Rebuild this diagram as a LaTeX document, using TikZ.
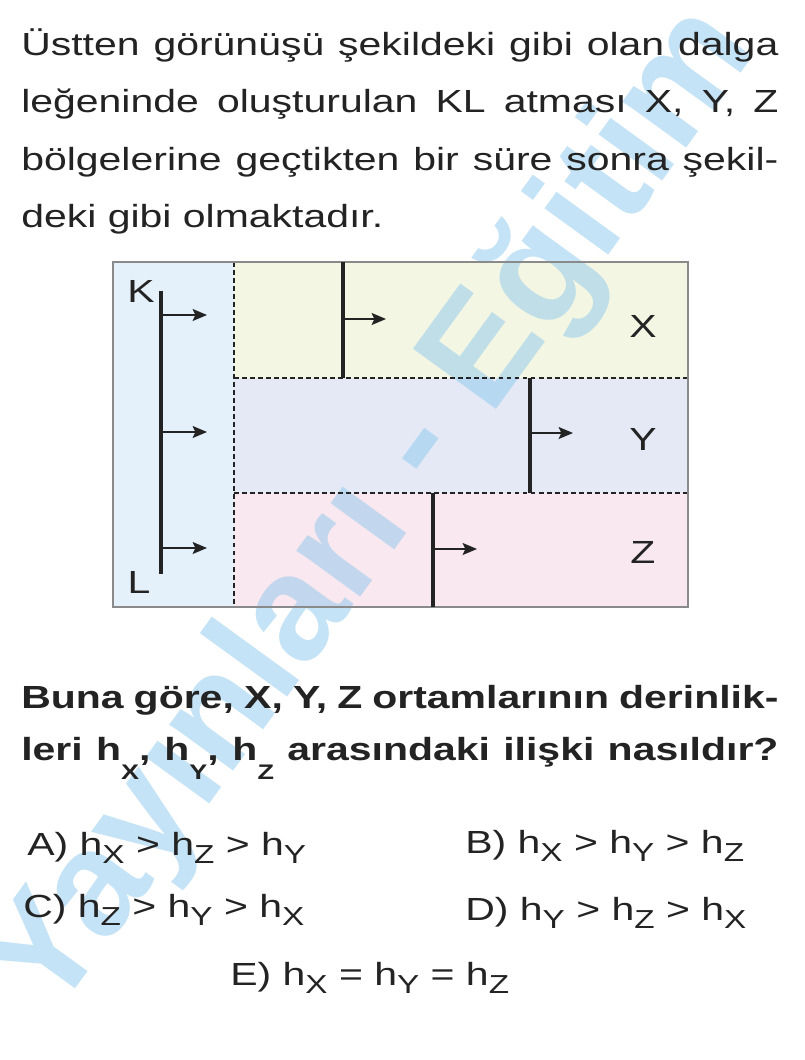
\documentclass[tikz,border=0pt]{standalone}
\usepackage{fontspec}
\setmainfont{Liberation Sans}[FakeStretch=1.28]
\newfontfamily\wmfont{Liberation Sans}
\usetikzlibrary{arrows.meta}

\definecolor{kbg}{RGB}{228,241,251}
\definecolor{xbg}{RGB}{243,246,227}
\definecolor{ybg}{RGB}{228,233,245}
\definecolor{zbg}{RGB}{249,232,239}
\definecolor{framegray}{RGB}{138,138,138}
\definecolor{ink}{RGB}{35,35,35}
\definecolor{wmblue}{RGB}{140,200,238}

\newcommand{\optsub}[1]{\raisebox{-6pt}{\fontsize{18.5pt}{18.5pt}\selectfont #1}}
\newcommand{\qsub}[1]{\raisebox{-14pt}{\fontsize{15pt}{15pt}\selectfont\bfseries #1}}
\newcommand{\fullline}[1]{\makebox[18.925cm][s]{#1}}

\tikzset{
  txt/.style={anchor=base west, inner sep=0pt, text=ink, font=\fontsize{22.76pt}{40pt}\selectfont},
  qtxt/.style={txt, font=\fontsize{22.76pt}{40pt}\selectfont\bfseries},
  lbl/.style={inner sep=0pt, text=ink, font=\fontsize{22.76pt}{24pt}\selectfont},
  wm/.style={inner sep=0pt, text=wmblue, text opacity=0.5, font=\wmfont\bfseries\fontsize{106pt}{106pt}\selectfont},
  front/.style={line width=2.8pt, draw=ink},
  ray/.style={line width=1pt, draw=ink, -{Stealth[length=0.36cm,width=0.3cm,inset=0.07cm]}},
  divider/.style={line width=1pt, draw=ink, dash pattern=on 3.5pt off 2.2pt},
}

\begin{document}
\begin{tikzpicture}[x=0.025cm, y=-0.025cm]

\useasboundingbox (0,0) rectangle (804,1060);
\fill[white] (0,0) rectangle (804,1060);

% regions of the tank
\fill[kbg] (113,262) rectangle (234,607);
\fill[xbg] (234,262) rectangle (688,378);
\fill[ybg] (234,378) rectangle (688,493);
\fill[zbg] (234,493) rectangle (688,607);

\node[wm, rotate=54] (mark) at (374,512) {Yayınları - Eğitim};

\node[txt] (p1) at (21,55) {\fullline{Üstten görünüşü şekildeki gibi olan dalga}};
\node[txt] (p2) at (21,112.5) {\fullline{leğeninde oluşturulan KL atması X, Y, Z}};
\node[txt] (p3) at (21,170) {\fullline{bölgelerine geçtikten bir süre sonra şekil-}};
\node[txt] (p4) at (21,227.5) {deki gibi olmaktadır.};

\draw[divider] (234,262) -- (234,607);
\draw[divider] (234,378) -- (688,378);
\draw[divider] (234,493) -- (688,493);
\draw[framegray, line width=1.5pt] (113,262) rectangle (688,607);

% wave fronts
\draw[front] (161,291) -- (161,574);
\draw[front] (343,262) -- (343,378);
\draw[front] (530,378) -- (530,493);
\draw[front] (433,493) -- (433,607);

\foreach \y in {315,432,548}
  \draw[ray] (161,\y) -- (207,\y);
\draw[ray] (343,319) -- (386,319);
\draw[ray] (530,433) -- (573,433);
\draw[ray] (433,549) -- (477,549);

\node[lbl] (K) at (141,291) {K};
\node[lbl] (L) at (139,582) {L};
\node[lbl] (X) at (643,326) {X};
\node[lbl] (Y) at (643,439) {Y};
\node[lbl] (Z) at (643,552) {Z};

\node[qtxt] (q1) at (21,708) {\fullline{Buna göre, X, Y, Z ortamlarının derinlik-}};
\node[qtxt] (q2) at (21,760) {\fullline{leri h\qsub{X}, h\qsub{Y}, h\qsub{Z} arasındaki ilişki nasıldır?}};

\node[txt] (optA) at (27,855) {A) h\optsub{X} > h\optsub{Z} > h\optsub{Y}};
\node[txt] (optB) at (465,853) {B) h\optsub{X} > h\optsub{Y} > h\optsub{Z}};
\node[txt] (optC) at (23,917) {C) h\optsub{Z} > h\optsub{Y} > h\optsub{X}};
\node[txt] (optD) at (465,920) {D) h\optsub{Y} > h\optsub{Z} > h\optsub{X}};
\node[txt] (optE) at (230,985) {E) h\optsub{X} = h\optsub{Y} = h\optsub{Z}};

\end{tikzpicture}
\end{document}
